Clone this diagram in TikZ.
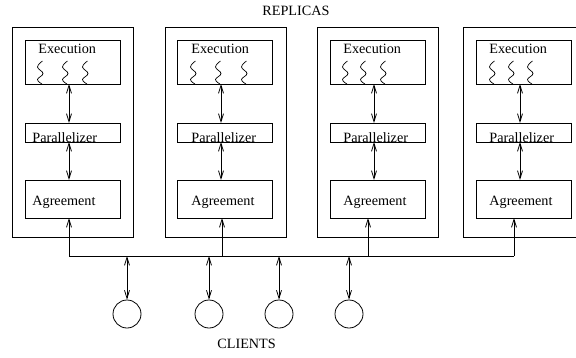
\documentclass[tikz,border=0pt]{standalone}
\usepackage{fontspec}
\setmainfont{Liberation Serif}
\usetikzlibrary{arrows.meta}
\begin{document}
\begin{tikzpicture}[x=1pt,y=-1pt,line width=0.8pt,
  box/.style={draw,rectangle,inner sep=0pt,outer sep=0pt,anchor=north west},
  lbl/.style={anchor=base west,inner sep=0pt,font=\fontsize{14.2}{16}\selectfont},
  dbl/.style={{Straight Barb[length=8pt,width=5pt]}-{Straight Barb[length=8pt,width=5pt]}},
  sgl/.style={-{Straight Barb[length=8pt,width=5pt]}},
  client/.style={draw,circle,inner sep=0pt,minimum size=28pt}]
\useasboundingbox (0,0) rectangle (576,357);
\clip (0,0) rectangle (576,357);
\node[lbl] (replicas) at (262,15) {REPLICAS};
\node[lbl] (clients) at (217,348) {CLIENTS};
% replicas: index/ox/ex/ax/bx/execoff/paroff/agroff/s1/s2/s3
\foreach \i/\ox/\ex/\ax/\bx/\eo/\po/\ao/\sa/\sb/\sc in {
  1/12/25/69/69/13/7/7/15/40/60,
  2/165/177/221/222/14/14/14/16/41/67,
  3/317/330/374/368/13/13/13/15/33/53,
  4/463/476/520/514/13/13/13/16/35/54}{
  \node[box,minimum width=121pt,minimum height=210pt] (o\i) at (\ox,27) {};
  \node[box,minimum width=95pt,minimum height=44pt] (e\i) at (\ex,40) {};
  \node[box,minimum width=95pt,minimum height=19pt] (p\i) at (\ex,123) {};
  \node[box,minimum width=95pt,minimum height=38pt] (a\i) at (\ex,180) {};
  \node[lbl] (et\i) at (\ex+\eo,53) {Execution};
  \node[lbl] (pt\i) at (\ex+\po,142) {Parallelizer};
  \node[lbl] (at\i) at (\ex+\ao,205) {Agreement};
  \coordinate (ax\i) at (\ax,0);
  \coordinate (bus\i) at (\bx,256);
  \draw[dbl] (e\i.south -| ax\i) -- (p\i.north -| ax\i);
  \draw[dbl] (p\i.south -| ax\i) -- (a\i.north -| ax\i);
  \draw[sgl] (bus\i) -- (a\i.south -| bus\i);
  \foreach \s in {\sa,\sb,\sc}{
    \draw[line width=0.7pt] plot[smooth,tension=0.7] coordinates
      {(\ex+\s+2.5,61) (\ex+\s-2.5,67) (\ex+\s+3,73.5) (\ex+\s-2.5,79.5) (\ex+\s+2,84)};
  }
}
\draw (bus1) -- (bus4);
\foreach \j/\cx in {1/127,2/209,3/279,4/349}{
  \node[client] (c\j) at (\cx,314) {};
  \coordinate (cb\j) at (\cx,256);
  \draw[dbl] (cb\j) -- (c\j.north);
}
\end{tikzpicture}
\end{document}
